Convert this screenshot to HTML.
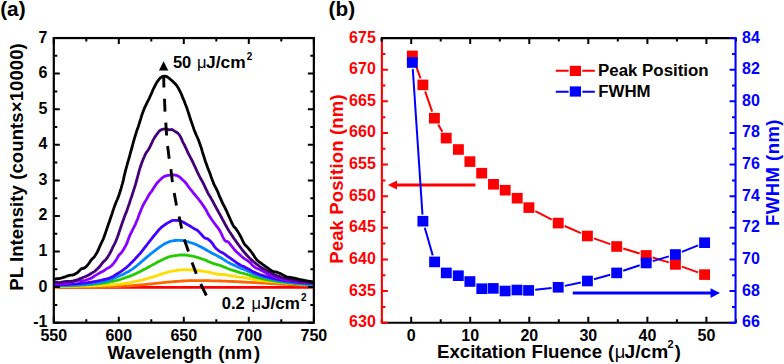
<!DOCTYPE html>
<html><head><meta charset="utf-8"><style>
html,body{margin:0;padding:0;background:#fff;}
body{width:784px;height:364px;overflow:hidden;font-family:"Liberation Sans",sans-serif;}
svg{display:block;}
</style></head><body>
<svg width="784" height="364" viewBox="0 0 784 364">
<rect width="784" height="364" fill="#fff"/>
<text x="0.2" y="15.8" font-family="Liberation Sans, sans-serif" font-weight="bold" font-size="20.8">(a)</text>
<text x="328.6" y="15.8" font-family="Liberation Sans, sans-serif" font-weight="bold" font-size="20.8">(b)</text>
<defs><clipPath id="ca"><rect x="53.8" y="38.05" width="260.05" height="284.65"/></clipPath></defs>
<g clip-path="url(#ca)" fill="none" stroke-width="2.8" stroke-linejoin="round">
<path d="M53.8,287.3 L313.85,287.3" stroke="#ff0000"/>
<path d="M53.8,287.7 L54.7,287.7 L55.5,287.7 L56.4,287.7 L57.3,287.6 L58.1,287.6 L59.0,287.5 L59.9,287.4 L60.8,287.3 L61.6,287.3 L62.5,287.3 L63.4,287.3 L64.2,287.3 L65.1,287.3 L66.0,287.3 L66.8,287.3 L67.7,287.3 L68.6,287.3 L69.5,287.3 L70.3,287.3 L71.2,287.3 L72.1,287.3 L72.9,287.3 L73.8,287.3 L74.7,287.3 L75.5,287.3 L76.4,287.3 L77.3,287.2 L78.2,287.2 L79.0,287.2 L79.9,287.2 L80.8,287.2 L81.6,287.2 L82.5,287.2 L83.4,287.2 L84.2,287.2 L85.1,287.2 L86.0,287.2 L86.8,287.2 L87.7,287.2 L88.6,287.2 L89.5,287.2 L90.3,287.2 L91.2,287.1 L92.1,287.1 L92.9,287.1 L93.8,287.1 L94.7,287.1 L95.5,287.1 L96.4,287.1 L97.3,287.1 L98.2,287.1 L99.0,287.0 L99.9,287.0 L100.8,287.0 L101.6,287.0 L102.5,287.0 L103.4,286.9 L104.2,286.9 L105.1,286.9 L106.0,286.9 L106.9,286.9 L107.7,286.8 L108.6,286.8 L109.5,286.8 L110.3,286.8 L111.2,286.7 L112.1,286.7 L112.9,286.7 L113.8,286.6 L114.7,286.6 L115.6,286.6 L116.4,286.5 L117.3,286.5 L118.2,286.5 L119.0,286.4 L119.9,286.4 L120.8,286.3 L121.6,286.3 L122.5,286.2 L123.4,286.2 L124.2,286.1 L125.1,286.1 L126.0,286.0 L126.9,286.0 L127.7,285.9 L128.6,285.9 L129.5,285.8 L130.3,285.8 L131.2,285.7 L132.1,285.6 L132.9,285.6 L133.8,285.5 L134.7,285.4 L135.6,285.4 L136.4,285.3 L137.3,285.2 L138.2,285.2 L139.0,285.1 L139.9,285.0 L140.8,284.9 L141.6,284.8 L142.5,284.8 L143.4,284.7 L144.3,284.6 L145.1,284.5 L146.0,284.4 L146.9,284.3 L147.7,284.2 L148.6,284.1 L149.5,284.1 L150.3,284.0 L151.2,283.9 L152.1,283.8 L152.9,283.7 L153.8,283.6 L154.7,283.5 L155.6,283.4 L156.4,283.3 L157.3,283.2 L158.2,283.2 L159.0,283.1 L159.9,283.0 L160.8,282.9 L161.6,282.8 L162.5,282.7 L163.4,282.6 L164.3,282.5 L165.1,282.4 L166.0,282.3 L166.9,282.2 L167.7,282.2 L168.6,282.1 L169.5,282.0 L170.3,281.9 L171.2,281.8 L172.1,281.8 L173.0,281.7 L173.8,281.6 L174.7,281.5 L175.6,281.5 L176.4,281.4 L177.3,281.4 L178.2,281.3 L179.0,281.3 L179.9,281.2 L180.8,281.1 L181.7,281.1 L182.5,281.0 L183.4,281.0 L184.3,280.9 L185.1,280.9 L186.0,280.8 L186.9,280.8 L187.7,280.7 L188.6,280.7 L189.5,280.7 L190.3,280.6 L191.2,280.6 L192.1,280.6 L193.0,280.6 L193.8,280.6 L194.7,280.6 L195.6,280.6 L196.4,280.6 L197.3,280.6 L198.2,280.6 L199.0,280.6 L199.9,280.6 L200.8,280.6 L201.7,280.6 L202.5,280.6 L203.4,280.6 L204.3,280.6 L205.1,280.6 L206.0,280.6 L206.9,280.6 L207.7,280.7 L208.6,280.7 L209.5,280.7 L210.4,280.8 L211.2,280.8 L212.1,280.8 L213.0,280.8 L213.8,280.8 L214.7,280.9 L215.6,280.9 L216.4,280.9 L217.3,280.9 L218.2,280.9 L219.0,281.0 L219.9,281.0 L220.8,281.0 L221.7,281.1 L222.5,281.1 L223.4,281.1 L224.3,281.2 L225.1,281.2 L226.0,281.2 L226.9,281.3 L227.7,281.3 L228.6,281.3 L229.5,281.4 L230.4,281.4 L231.2,281.4 L232.1,281.5 L233.0,281.5 L233.8,281.5 L234.7,281.6 L235.6,281.6 L236.4,281.7 L237.3,281.7 L238.2,281.7 L239.1,281.8 L239.9,281.8 L240.8,281.9 L241.7,282.0 L242.5,282.0 L243.4,282.1 L244.3,282.1 L245.1,282.2 L246.0,282.2 L246.9,282.3 L247.8,282.3 L248.6,282.4 L249.5,282.4 L250.4,282.4 L251.2,282.5 L252.1,282.5 L253.0,282.5 L253.8,282.6 L254.7,282.6 L255.6,282.7 L256.4,282.7 L257.3,282.8 L258.2,282.8 L259.1,282.9 L259.9,282.9 L260.8,282.9 L261.7,283.0 L262.5,283.0 L263.4,283.1 L264.3,283.1 L265.1,283.2 L266.0,283.2 L266.9,283.3 L267.8,283.3 L268.6,283.4 L269.5,283.4 L270.4,283.5 L271.2,283.5 L272.1,283.6 L273.0,283.6 L273.8,283.7 L274.7,283.7 L275.6,283.8 L276.5,283.8 L277.3,283.9 L278.2,283.9 L279.1,284.0 L279.9,284.0 L280.8,284.1 L281.7,284.1 L282.5,284.2 L283.4,284.2 L284.3,284.3 L285.1,284.3 L286.0,284.4 L286.9,284.4 L287.8,284.5 L288.6,284.5 L289.5,284.5 L290.4,284.6 L291.2,284.6 L292.1,284.7 L293.0,284.7 L293.8,284.8 L294.7,284.8 L295.6,284.8 L296.5,284.9 L297.3,284.9 L298.2,284.9 L299.1,285.0 L299.9,285.0 L300.8,285.0 L301.7,285.1 L302.5,285.1 L303.4,285.2 L304.3,285.2 L305.2,285.3 L306.0,285.3 L306.9,285.4 L307.8,285.4 L308.6,285.4 L309.5,285.5 L310.4,285.5 L311.2,285.6 L312.1,285.6 L313.0,285.6 L313.9,285.7" stroke="#ff6600"/>
<path d="M53.8,287.1 L54.7,287.1 L55.5,287.1 L56.4,287.0 L57.3,287.0 L58.1,286.9 L59.0,286.7 L59.9,286.6 L60.8,286.6 L61.6,286.5 L62.5,286.5 L63.4,286.5 L64.2,286.5 L65.1,286.5 L66.0,286.4 L66.8,286.4 L67.7,286.4 L68.6,286.4 L69.5,286.4 L70.3,286.4 L71.2,286.4 L72.1,286.4 L72.9,286.3 L73.8,286.3 L74.7,286.3 L75.5,286.3 L76.4,286.3 L77.3,286.3 L78.2,286.2 L79.0,286.2 L79.9,286.2 L80.8,286.2 L81.6,286.2 L82.5,286.2 L83.4,286.1 L84.2,286.1 L85.1,286.1 L86.0,286.1 L86.8,286.1 L87.7,286.0 L88.6,286.0 L89.5,286.0 L90.3,286.0 L91.2,285.9 L92.1,285.9 L92.9,285.9 L93.8,285.8 L94.7,285.8 L95.5,285.8 L96.4,285.7 L97.3,285.7 L98.2,285.7 L99.0,285.6 L99.9,285.6 L100.8,285.5 L101.6,285.5 L102.5,285.5 L103.4,285.4 L104.2,285.4 L105.1,285.3 L106.0,285.3 L106.9,285.2 L107.7,285.2 L108.6,285.1 L109.5,285.0 L110.3,285.0 L111.2,284.9 L112.1,284.8 L112.9,284.8 L113.8,284.7 L114.7,284.6 L115.6,284.5 L116.4,284.4 L117.3,284.4 L118.2,284.3 L119.0,284.2 L119.9,284.1 L120.8,284.0 L121.6,283.9 L122.5,283.8 L123.4,283.6 L124.2,283.5 L125.1,283.4 L126.0,283.3 L126.9,283.1 L127.7,283.0 L128.6,282.8 L129.5,282.7 L130.3,282.5 L131.2,282.3 L132.1,282.1 L132.9,282.0 L133.8,281.8 L134.7,281.6 L135.6,281.4 L136.4,281.3 L137.3,281.1 L138.2,280.9 L139.0,280.7 L139.9,280.5 L140.8,280.3 L141.6,280.1 L142.5,279.9 L143.4,279.7 L144.3,279.5 L145.1,279.2 L146.0,279.0 L146.9,278.7 L147.7,278.5 L148.6,278.2 L149.5,278.0 L150.3,277.7 L151.2,277.4 L152.1,277.2 L152.9,276.9 L153.8,276.6 L154.7,276.3 L155.6,276.1 L156.4,275.8 L157.3,275.5 L158.2,275.2 L159.0,274.9 L159.9,274.6 L160.8,274.4 L161.6,274.1 L162.5,273.8 L163.4,273.5 L164.3,273.2 L165.1,273.0 L166.0,272.7 L166.9,272.4 L167.7,272.2 L168.6,271.9 L169.5,271.7 L170.3,271.5 L171.2,271.3 L172.1,271.2 L173.0,271.0 L173.8,270.9 L174.7,270.8 L175.6,270.6 L176.4,270.5 L177.3,270.4 L178.2,270.2 L179.0,270.1 L179.9,270.0 L180.8,270.0 L181.7,269.9 L182.5,269.9 L183.4,269.8 L184.3,269.7 L185.1,269.7 L186.0,269.7 L186.9,269.7 L187.7,269.8 L188.6,269.8 L189.5,269.8 L190.3,269.9 L191.2,269.9 L192.1,270.0 L193.0,270.1 L193.8,270.1 L194.7,270.2 L195.6,270.3 L196.4,270.4 L197.3,270.5 L198.2,270.6 L199.0,270.7 L199.9,270.9 L200.8,271.0 L201.7,271.1 L202.5,271.2 L203.4,271.3 L204.3,271.4 L205.1,271.6 L206.0,271.7 L206.9,271.8 L207.7,271.9 L208.6,272.1 L209.5,272.2 L210.4,272.4 L211.2,272.6 L212.1,272.8 L213.0,273.1 L213.8,273.4 L214.7,273.6 L215.6,273.8 L216.4,274.0 L217.3,274.1 L218.2,274.3 L219.0,274.4 L219.9,274.5 L220.8,274.5 L221.7,274.5 L222.5,274.5 L223.4,274.5 L224.3,274.6 L225.1,274.7 L226.0,274.9 L226.9,275.0 L227.7,275.2 L228.6,275.3 L229.5,275.5 L230.4,275.6 L231.2,275.8 L232.1,275.9 L233.0,276.1 L233.8,276.2 L234.7,276.4 L235.6,276.5 L236.4,276.7 L237.3,276.8 L238.2,277.0 L239.1,277.1 L239.9,277.2 L240.8,277.3 L241.7,277.4 L242.5,277.4 L243.4,277.5 L244.3,277.6 L245.1,277.7 L246.0,277.8 L246.9,278.0 L247.8,278.1 L248.6,278.3 L249.5,278.4 L250.4,278.6 L251.2,278.8 L252.1,279.0 L253.0,279.2 L253.8,279.4 L254.7,279.5 L255.6,279.6 L256.4,279.8 L257.3,279.9 L258.2,280.0 L259.1,280.1 L259.9,280.2 L260.8,280.3 L261.7,280.4 L262.5,280.6 L263.4,280.7 L264.3,280.8 L265.1,280.9 L266.0,281.0 L266.9,281.1 L267.8,281.2 L268.6,281.3 L269.5,281.4 L270.4,281.5 L271.2,281.6 L272.1,281.7 L273.0,281.8 L273.8,281.9 L274.7,282.0 L275.6,282.1 L276.5,282.1 L277.3,282.2 L278.2,282.3 L279.1,282.4 L279.9,282.5 L280.8,282.6 L281.7,282.6 L282.5,282.7 L283.4,282.8 L284.3,282.9 L285.1,282.9 L286.0,283.0 L286.9,283.1 L287.8,283.2 L288.6,283.2 L289.5,283.3 L290.4,283.4 L291.2,283.4 L292.1,283.5 L293.0,283.6 L293.8,283.6 L294.7,283.7 L295.6,283.7 L296.5,283.8 L297.3,283.9 L298.2,283.9 L299.1,284.0 L299.9,284.0 L300.8,284.1 L301.7,284.1 L302.5,284.2 L303.4,284.2 L304.3,284.3 L305.2,284.3 L306.0,284.4 L306.9,284.4 L307.8,284.5 L308.6,284.5 L309.5,284.6 L310.4,284.6 L311.2,284.6 L312.1,284.7 L313.0,284.7 L313.9,284.8" stroke="#ffdd00"/>
<path d="M53.8,286.7 L54.7,286.7 L55.5,286.6 L56.4,286.6 L57.3,286.5 L58.1,286.3 L59.0,286.2 L59.9,286.0 L60.8,285.9 L61.6,285.9 L62.5,285.8 L63.4,285.8 L64.2,285.8 L65.1,285.8 L66.0,285.7 L66.8,285.7 L67.7,285.7 L68.6,285.7 L69.5,285.6 L70.3,285.6 L71.2,285.6 L72.1,285.5 L72.9,285.5 L73.8,285.5 L74.7,285.4 L75.5,285.4 L76.4,285.4 L77.3,285.3 L78.2,285.3 L79.0,285.2 L79.9,285.2 L80.8,285.2 L81.6,285.1 L82.5,285.1 L83.4,285.0 L84.2,285.0 L85.1,284.9 L86.0,284.9 L86.8,284.8 L87.7,284.7 L88.6,284.7 L89.5,284.6 L90.3,284.5 L91.2,284.5 L92.1,284.4 L92.9,284.3 L93.8,284.2 L94.7,284.2 L95.5,284.1 L96.4,284.0 L97.3,283.9 L98.2,283.8 L99.0,283.7 L99.9,283.6 L100.8,283.5 L101.6,283.3 L102.5,283.2 L103.4,283.1 L104.2,283.0 L105.1,282.8 L106.0,282.7 L106.9,282.6 L107.7,282.4 L108.6,282.2 L109.5,282.1 L110.3,281.9 L111.2,281.7 L112.1,281.5 L112.9,281.4 L113.8,281.2 L114.7,281.0 L115.6,280.7 L116.4,280.5 L117.3,280.3 L118.2,280.1 L119.0,279.8 L119.9,279.5 L120.8,279.3 L121.6,279.0 L122.5,278.7 L123.4,278.4 L124.2,278.1 L125.1,277.8 L126.0,277.5 L126.9,277.2 L127.7,276.9 L128.6,276.6 L129.5,276.3 L130.3,275.9 L131.2,275.6 L132.1,275.3 L132.9,274.9 L133.8,274.5 L134.7,274.1 L135.6,273.7 L136.4,273.3 L137.3,272.9 L138.2,272.5 L139.0,272.1 L139.9,271.6 L140.8,271.2 L141.6,270.7 L142.5,270.3 L143.4,269.8 L144.3,269.4 L145.1,268.9 L146.0,268.5 L146.9,268.0 L147.7,267.5 L148.6,267.0 L149.5,266.6 L150.3,266.1 L151.2,265.6 L152.1,265.1 L152.9,264.6 L153.8,264.2 L154.7,263.7 L155.6,263.3 L156.4,262.8 L157.3,262.3 L158.2,261.9 L159.0,261.4 L159.9,261.0 L160.8,260.5 L161.6,260.1 L162.5,259.7 L163.4,259.2 L164.3,258.8 L165.1,258.4 L166.0,258.0 L166.9,257.7 L167.7,257.3 L168.6,257.0 L169.5,256.7 L170.3,256.5 L171.2,256.3 L172.1,256.1 L173.0,256.0 L173.8,255.8 L174.7,255.7 L175.6,255.6 L176.4,255.5 L177.3,255.3 L178.2,255.2 L179.0,255.1 L179.9,255.0 L180.8,255.0 L181.7,255.0 L182.5,254.9 L183.4,255.0 L184.3,255.0 L185.1,255.0 L186.0,255.1 L186.9,255.2 L187.7,255.3 L188.6,255.5 L189.5,255.6 L190.3,255.8 L191.2,255.9 L192.1,256.1 L193.0,256.2 L193.8,256.4 L194.7,256.6 L195.6,256.8 L196.4,257.1 L197.3,257.3 L198.2,257.6 L199.0,257.9 L199.9,258.2 L200.8,258.5 L201.7,258.8 L202.5,259.1 L203.4,259.4 L204.3,259.6 L205.1,260.0 L206.0,260.3 L206.9,260.7 L207.7,261.2 L208.6,261.6 L209.5,262.0 L210.4,262.3 L211.2,262.7 L212.1,263.0 L213.0,263.3 L213.8,263.6 L214.7,263.9 L215.6,264.2 L216.4,264.4 L217.3,264.6 L218.2,264.8 L219.0,265.0 L219.9,265.4 L220.8,265.7 L221.7,266.0 L222.5,266.4 L223.4,266.7 L224.3,267.1 L225.1,267.4 L226.0,267.8 L226.9,268.2 L227.7,268.5 L228.6,268.8 L229.5,269.2 L230.4,269.5 L231.2,269.8 L232.1,270.1 L233.0,270.4 L233.8,270.6 L234.7,270.9 L235.6,271.2 L236.4,271.4 L237.3,271.7 L238.2,272.0 L239.1,272.3 L239.9,272.6 L240.8,272.8 L241.7,273.0 L242.5,273.2 L243.4,273.3 L244.3,273.6 L245.1,273.8 L246.0,274.0 L246.9,274.3 L247.8,274.6 L248.6,274.8 L249.5,275.1 L250.4,275.4 L251.2,275.8 L252.1,276.1 L253.0,276.4 L253.8,276.7 L254.7,277.0 L255.6,277.2 L256.4,277.4 L257.3,277.6 L258.2,277.8 L259.1,278.0 L259.9,278.2 L260.8,278.4 L261.7,278.6 L262.5,278.8 L263.4,279.0 L264.3,279.2 L265.1,279.4 L266.0,279.5 L266.9,279.7 L267.8,279.9 L268.6,280.0 L269.5,280.2 L270.4,280.4 L271.2,280.5 L272.1,280.7 L273.0,280.8 L273.8,281.0 L274.7,281.1 L275.6,281.2 L276.5,281.4 L277.3,281.5 L278.2,281.6 L279.1,281.8 L279.9,281.9 L280.8,282.0 L281.7,282.1 L282.5,282.2 L283.4,282.3 L284.3,282.4 L285.1,282.5 L286.0,282.6 L286.9,282.7 L287.8,282.8 L288.6,282.9 L289.5,283.0 L290.4,283.1 L291.2,283.2 L292.1,283.3 L293.0,283.4 L293.8,283.4 L294.7,283.5 L295.6,283.6 L296.5,283.7 L297.3,283.7 L298.2,283.8 L299.1,283.9 L299.9,283.9 L300.8,284.0 L301.7,284.1 L302.5,284.1 L303.4,284.2 L304.3,284.2 L305.2,284.3 L306.0,284.3 L306.9,284.4 L307.8,284.5 L308.6,284.5 L309.5,284.5 L310.4,284.6 L311.2,284.6 L312.1,284.7 L313.0,284.7 L313.9,284.8" stroke="#22cc00"/>
<path d="M53.8,286.4 L54.7,286.4 L55.5,286.3 L56.4,286.3 L57.3,286.2 L58.1,286.1 L59.0,285.9 L59.9,285.8 L60.8,285.7 L61.6,285.6 L62.5,285.6 L63.4,285.5 L64.2,285.5 L65.1,285.5 L66.0,285.4 L66.8,285.4 L67.7,285.4 L68.6,285.3 L69.5,285.3 L70.3,285.3 L71.2,285.2 L72.1,285.2 L72.9,285.2 L73.8,285.1 L74.7,285.1 L75.5,285.0 L76.4,285.0 L77.3,284.9 L78.2,284.9 L79.0,284.8 L79.9,284.8 L80.8,284.7 L81.6,284.6 L82.5,284.6 L83.4,284.5 L84.2,284.4 L85.1,284.3 L86.0,284.3 L86.8,284.2 L87.7,284.1 L88.6,284.0 L89.5,283.9 L90.3,283.8 L91.2,283.7 L92.1,283.6 L92.9,283.5 L93.8,283.4 L94.7,283.2 L95.5,283.1 L96.4,283.0 L97.3,282.8 L98.2,282.7 L99.0,282.5 L99.9,282.3 L100.8,282.2 L101.6,282.0 L102.5,281.8 L103.4,281.6 L104.2,281.4 L105.1,281.2 L106.0,281.0 L106.9,280.7 L107.7,280.5 L108.6,280.2 L109.5,280.0 L110.3,279.7 L111.2,279.4 L112.1,279.0 L112.9,278.7 L113.8,278.3 L114.7,277.9 L115.6,277.5 L116.4,277.2 L117.3,276.8 L118.2,276.4 L119.0,276.0 L119.9,275.7 L120.8,275.3 L121.6,274.9 L122.5,274.6 L123.4,274.2 L124.2,273.7 L125.1,273.3 L126.0,272.8 L126.9,272.4 L127.7,271.9 L128.6,271.5 L129.5,271.0 L130.3,270.4 L131.2,269.9 L132.1,269.3 L132.9,268.7 L133.8,268.1 L134.7,267.4 L135.6,266.7 L136.4,266.0 L137.3,265.3 L138.2,264.5 L139.0,263.8 L139.9,263.1 L140.8,262.4 L141.6,261.6 L142.5,260.9 L143.4,260.1 L144.3,259.4 L145.1,258.6 L146.0,257.9 L146.9,257.1 L147.7,256.4 L148.6,255.7 L149.5,254.9 L150.3,254.2 L151.2,253.5 L152.1,252.9 L152.9,252.2 L153.8,251.5 L154.7,250.8 L155.6,250.1 L156.4,249.4 L157.3,248.8 L158.2,248.1 L159.0,247.5 L159.9,246.9 L160.8,246.2 L161.6,245.7 L162.5,245.1 L163.4,244.6 L164.3,244.0 L165.1,243.5 L166.0,243.1 L166.9,242.7 L167.7,242.3 L168.6,242.0 L169.5,241.7 L170.3,241.4 L171.2,241.2 L172.1,241.0 L173.0,240.8 L173.8,240.6 L174.7,240.5 L175.6,240.5 L176.4,240.4 L177.3,240.4 L178.2,240.4 L179.0,240.4 L179.9,240.4 L180.8,240.4 L181.7,240.5 L182.5,240.6 L183.4,240.7 L184.3,240.9 L185.1,241.1 L186.0,241.3 L186.9,241.5 L187.7,241.7 L188.6,242.0 L189.5,242.3 L190.3,242.5 L191.2,242.8 L192.1,243.0 L193.0,243.3 L193.8,243.7 L194.7,244.0 L195.6,244.3 L196.4,244.7 L197.3,245.1 L198.2,245.5 L199.0,246.0 L199.9,246.4 L200.8,246.9 L201.7,247.3 L202.5,247.8 L203.4,248.2 L204.3,248.7 L205.1,249.3 L206.0,249.8 L206.9,250.3 L207.7,250.8 L208.6,251.3 L209.5,251.7 L210.4,252.2 L211.2,252.7 L212.1,253.2 L213.0,253.6 L213.8,254.1 L214.7,254.5 L215.6,254.9 L216.4,255.4 L217.3,255.9 L218.2,256.3 L219.0,256.8 L219.9,257.3 L220.8,257.8 L221.7,258.3 L222.5,258.8 L223.4,259.4 L224.3,259.9 L225.1,260.5 L226.0,261.0 L226.9,261.6 L227.7,262.1 L228.6,262.6 L229.5,263.0 L230.4,263.5 L231.2,263.9 L232.1,264.4 L233.0,264.8 L233.8,265.2 L234.7,265.5 L235.6,265.9 L236.4,266.3 L237.3,266.7 L238.2,267.1 L239.1,267.5 L239.9,267.9 L240.8,268.3 L241.7,268.6 L242.5,268.9 L243.4,269.2 L244.3,269.5 L245.1,269.9 L246.0,270.2 L246.9,270.6 L247.8,271.0 L248.6,271.4 L249.5,271.7 L250.4,272.1 L251.2,272.6 L252.1,273.0 L253.0,273.4 L253.8,273.8 L254.7,274.1 L255.6,274.4 L256.4,274.8 L257.3,275.0 L258.2,275.3 L259.1,275.6 L259.9,275.9 L260.8,276.2 L261.7,276.4 L262.5,276.7 L263.4,277.0 L264.3,277.2 L265.1,277.5 L266.0,277.7 L266.9,277.9 L267.8,278.2 L268.6,278.4 L269.5,278.6 L270.4,278.8 L271.2,279.0 L272.1,279.2 L273.0,279.4 L273.8,279.6 L274.7,279.8 L275.6,280.0 L276.5,280.2 L277.3,280.3 L278.2,280.5 L279.1,280.7 L279.9,280.8 L280.8,281.0 L281.7,281.1 L282.5,281.3 L283.4,281.4 L284.3,281.5 L285.1,281.7 L286.0,281.8 L286.9,281.9 L287.8,282.1 L288.6,282.2 L289.5,282.3 L290.4,282.4 L291.2,282.5 L292.1,282.6 L293.0,282.7 L293.8,282.8 L294.7,282.9 L295.6,283.0 L296.5,283.1 L297.3,283.2 L298.2,283.3 L299.1,283.4 L299.9,283.5 L300.8,283.5 L301.7,283.6 L302.5,283.7 L303.4,283.8 L304.3,283.8 L305.2,283.9 L306.0,284.0 L306.9,284.0 L307.8,284.1 L308.6,284.1 L309.5,284.2 L310.4,284.2 L311.2,284.3 L312.1,284.4 L313.0,284.4 L313.9,284.5" stroke="#0088ff"/>
<path d="M53.8,285.2 L54.7,285.1 L55.5,285.1 L56.4,285.1 L57.3,285.0 L58.1,284.9 L59.0,284.8 L59.9,284.8 L60.8,284.7 L61.6,284.6 L62.5,284.6 L63.4,284.6 L64.2,284.5 L65.1,284.5 L66.0,284.4 L66.8,284.4 L67.7,284.3 L68.6,284.3 L69.5,284.2 L70.3,284.2 L71.2,284.1 L72.1,284.1 L72.9,284.0 L73.8,284.0 L74.7,283.9 L75.5,283.8 L76.4,283.8 L77.3,283.7 L78.2,283.6 L79.0,283.6 L79.9,283.5 L80.8,283.4 L81.6,283.3 L82.5,283.2 L83.4,283.2 L84.2,283.1 L85.1,283.0 L86.0,282.9 L86.8,282.8 L87.7,282.7 L88.6,282.5 L89.5,282.4 L90.3,282.3 L91.2,282.2 L92.1,282.0 L92.9,281.9 L93.8,281.7 L94.7,281.6 L95.5,281.4 L96.4,281.2 L97.3,281.1 L98.2,280.9 L99.0,280.7 L99.9,280.5 L100.8,280.3 L101.6,280.0 L102.5,279.8 L103.4,279.6 L104.2,279.4 L105.1,279.3 L106.0,279.1 L106.9,278.9 L107.7,278.6 L108.6,278.4 L109.5,278.0 L110.3,277.7 L111.2,277.3 L112.1,276.9 L112.9,276.5 L113.8,276.0 L114.7,275.4 L115.6,274.8 L116.4,274.3 L117.3,273.8 L118.2,273.2 L119.0,272.7 L119.9,272.2 L120.8,271.6 L121.6,271.0 L122.5,270.4 L123.4,269.8 L124.2,269.1 L125.1,268.5 L126.0,267.8 L126.9,267.1 L127.7,266.3 L128.6,265.5 L129.5,264.7 L130.3,263.8 L131.2,262.9 L132.1,262.1 L132.9,261.2 L133.8,260.3 L134.7,259.4 L135.6,258.4 L136.4,257.5 L137.3,256.5 L138.2,255.6 L139.0,254.6 L139.9,253.7 L140.8,252.7 L141.6,251.6 L142.5,250.5 L143.4,249.3 L144.3,248.2 L145.1,247.1 L146.0,246.0 L146.9,244.8 L147.7,243.7 L148.6,242.6 L149.5,241.5 L150.3,240.4 L151.2,239.3 L152.1,238.2 L152.9,237.1 L153.8,236.0 L154.7,234.9 L155.6,233.8 L156.4,232.8 L157.3,231.7 L158.2,230.7 L159.0,229.7 L159.9,228.8 L160.8,227.9 L161.6,227.1 L162.5,226.5 L163.4,225.9 L164.3,225.2 L165.1,224.6 L166.0,224.0 L166.9,223.4 L167.7,222.9 L168.6,222.4 L169.5,222.0 L170.3,221.5 L171.2,221.0 L172.1,220.6 L173.0,220.4 L173.8,220.3 L174.7,220.3 L175.6,220.3 L176.4,220.3 L177.3,220.4 L178.2,220.5 L179.0,220.7 L179.9,221.0 L180.8,221.2 L181.7,221.5 L182.5,221.9 L183.4,222.2 L184.3,222.7 L185.1,223.2 L186.0,223.7 L186.9,224.2 L187.7,224.7 L188.6,225.2 L189.5,225.7 L190.3,226.3 L191.2,226.8 L192.1,227.4 L193.0,227.9 L193.8,228.5 L194.7,229.0 L195.6,229.3 L196.4,229.7 L197.3,230.3 L198.2,231.1 L199.0,231.9 L199.9,232.9 L200.8,233.8 L201.7,234.8 L202.5,235.8 L203.4,236.7 L204.3,237.6 L205.1,238.1 L206.0,238.3 L206.9,238.5 L207.7,239.0 L208.6,239.6 L209.5,240.3 L210.4,241.1 L211.2,242.0 L212.1,243.0 L213.0,244.3 L213.8,245.7 L214.7,246.9 L215.6,247.9 L216.4,248.7 L217.3,249.5 L218.2,250.2 L219.0,250.9 L219.9,251.5 L220.8,252.0 L221.7,252.4 L222.5,252.8 L223.4,253.3 L224.3,253.9 L225.1,254.5 L226.0,255.1 L226.9,255.8 L227.7,256.4 L228.6,257.0 L229.5,257.6 L230.4,258.2 L231.2,258.9 L232.1,259.5 L233.0,260.1 L233.8,260.7 L234.7,261.3 L235.6,261.9 L236.4,262.6 L237.3,263.2 L238.2,263.8 L239.1,264.3 L239.9,264.8 L240.8,265.3 L241.7,265.7 L242.5,266.0 L243.4,266.4 L244.3,266.8 L245.1,267.2 L246.0,267.7 L246.9,268.1 L247.8,268.6 L248.6,269.1 L249.5,269.5 L250.4,270.0 L251.2,270.6 L252.1,271.1 L253.0,271.6 L253.8,272.1 L254.7,272.4 L255.6,272.8 L256.4,273.2 L257.3,273.5 L258.2,273.8 L259.1,274.2 L259.9,274.5 L260.8,274.8 L261.7,275.1 L262.5,275.4 L263.4,275.7 L264.3,276.0 L265.1,276.2 L266.0,276.5 L266.9,276.7 L267.8,277.0 L268.6,277.2 L269.5,277.5 L270.4,277.7 L271.2,277.9 L272.1,278.1 L273.0,278.3 L273.8,278.5 L274.7,278.7 L275.6,278.9 L276.5,279.1 L277.3,279.3 L278.2,279.5 L279.1,279.6 L279.9,279.8 L280.8,280.0 L281.7,280.1 L282.5,280.3 L283.4,280.4 L284.3,280.5 L285.1,280.7 L286.0,280.8 L286.9,280.9 L287.8,281.1 L288.6,281.2 L289.5,281.3 L290.4,281.4 L291.2,281.5 L292.1,281.6 L293.0,281.7 L293.8,281.8 L294.7,281.9 L295.6,282.0 L296.5,282.1 L297.3,282.2 L298.2,282.3 L299.1,282.4 L299.9,282.5 L300.8,282.5 L301.7,282.6 L302.5,282.7 L303.4,282.8 L304.3,282.8 L305.2,282.9 L306.0,283.0 L306.9,283.0 L307.8,283.1 L308.6,283.2 L309.5,283.2 L310.4,283.3 L311.2,283.3 L312.1,283.4 L313.0,283.4 L313.9,283.5" stroke="#4400ff"/>
<path d="M53.8,283.6 L54.7,283.6 L55.5,283.5 L56.4,283.5 L57.3,283.6 L58.1,283.6 L59.0,283.7 L59.9,283.8 L60.8,283.8 L61.6,283.8 L62.5,283.8 L63.4,283.7 L64.2,283.6 L65.1,283.5 L66.0,283.5 L66.8,283.4 L67.7,283.3 L68.6,283.2 L69.5,283.0 L70.3,282.7 L71.2,282.2 L72.1,281.7 L72.9,281.4 L73.8,281.1 L74.7,280.9 L75.5,280.7 L76.4,280.6 L77.3,280.5 L78.2,280.4 L79.0,280.4 L79.9,280.4 L80.8,280.6 L81.6,280.8 L82.5,280.8 L83.4,280.7 L84.2,280.5 L85.1,280.3 L86.0,280.0 L86.8,279.7 L87.7,279.5 L88.6,279.2 L89.5,278.9 L90.3,278.5 L91.2,278.2 L92.1,277.7 L92.9,277.1 L93.8,276.5 L94.7,275.9 L95.5,275.4 L96.4,274.9 L97.3,274.4 L98.2,273.9 L99.0,273.3 L99.9,272.8 L100.8,272.3 L101.6,271.9 L102.5,271.5 L103.4,271.0 L104.2,270.5 L105.1,269.9 L106.0,269.2 L106.9,268.6 L107.7,268.1 L108.6,267.7 L109.5,267.3 L110.3,266.7 L111.2,266.0 L112.1,265.1 L112.9,264.1 L113.8,263.1 L114.7,261.9 L115.6,260.7 L116.4,259.4 L117.3,257.9 L118.2,256.3 L119.0,255.1 L119.9,254.2 L120.8,253.3 L121.6,252.3 L122.5,251.1 L123.4,249.7 L124.2,248.3 L125.1,246.8 L126.0,245.1 L126.9,243.2 L127.7,240.9 L128.6,238.5 L129.5,236.3 L130.3,234.4 L131.2,232.7 L132.1,231.0 L132.9,229.2 L133.8,227.5 L134.7,225.7 L135.6,223.8 L136.4,221.8 L137.3,219.7 L138.2,217.4 L139.0,215.1 L139.9,212.8 L140.8,210.6 L141.6,208.5 L142.5,206.5 L143.4,204.7 L144.3,203.0 L145.1,201.6 L146.0,200.1 L146.9,198.6 L147.7,197.1 L148.6,195.5 L149.5,194.1 L150.3,192.9 L151.2,191.8 L152.1,190.6 L152.9,189.2 L153.8,187.8 L154.7,186.4 L155.6,185.1 L156.4,183.8 L157.3,182.7 L158.2,181.7 L159.0,180.9 L159.9,180.0 L160.8,179.2 L161.6,178.4 L162.5,177.7 L163.4,177.1 L164.3,176.5 L165.1,176.1 L166.0,175.8 L166.9,175.6 L167.7,175.4 L168.6,175.3 L169.5,175.1 L170.3,174.9 L171.2,174.8 L172.1,174.9 L173.0,175.0 L173.8,175.0 L174.7,175.1 L175.6,175.1 L176.4,175.3 L177.3,175.7 L178.2,176.1 L179.0,176.7 L179.9,177.3 L180.8,178.1 L181.7,178.9 L182.5,179.7 L183.4,180.5 L184.3,181.3 L185.1,182.2 L186.0,183.2 L186.9,184.4 L187.7,185.7 L188.6,186.9 L189.5,188.0 L190.3,189.1 L191.2,190.2 L192.1,191.3 L193.0,192.4 L193.8,193.5 L194.7,194.5 L195.6,195.6 L196.4,196.6 L197.3,197.6 L198.2,198.7 L199.0,199.8 L199.9,200.9 L200.8,202.1 L201.7,203.3 L202.5,204.6 L203.4,205.8 L204.3,207.1 L205.1,208.4 L206.0,209.9 L206.9,211.5 L207.7,213.2 L208.6,214.7 L209.5,216.2 L210.4,217.5 L211.2,218.8 L212.1,220.0 L213.0,221.3 L213.8,222.5 L214.7,223.7 L215.6,224.8 L216.4,226.0 L217.3,227.1 L218.2,228.2 L219.0,229.4 L219.9,230.8 L220.8,232.5 L221.7,234.4 L222.5,236.3 L223.4,238.1 L224.3,239.6 L225.1,240.7 L226.0,241.3 L226.9,241.4 L227.7,241.7 L228.6,242.4 L229.5,243.4 L230.4,244.5 L231.2,245.6 L232.1,246.7 L233.0,247.8 L233.8,248.9 L234.7,249.9 L235.6,250.8 L236.4,251.7 L237.3,252.5 L238.2,253.3 L239.1,254.1 L239.9,254.9 L240.8,255.7 L241.7,256.5 L242.5,257.2 L243.4,257.9 L244.3,258.5 L245.1,259.1 L246.0,259.7 L246.9,260.2 L247.8,260.8 L248.6,261.4 L249.5,262.1 L250.4,262.9 L251.2,263.9 L252.1,264.9 L253.0,265.8 L253.8,266.5 L254.7,267.1 L255.6,267.7 L256.4,268.1 L257.3,268.5 L258.2,268.8 L259.1,269.2 L259.9,269.6 L260.8,270.1 L261.7,270.5 L262.5,271.0 L263.4,271.5 L264.3,271.9 L265.1,272.4 L266.0,273.0 L266.9,273.5 L267.8,274.1 L268.6,274.5 L269.5,274.9 L270.4,275.3 L271.2,275.6 L272.1,275.9 L273.0,276.3 L273.8,276.6 L274.7,276.9 L275.6,277.1 L276.5,277.4 L277.3,277.7 L278.2,277.9 L279.1,278.2 L279.9,278.4 L280.8,278.6 L281.7,278.9 L282.5,279.1 L283.4,279.3 L284.3,279.5 L285.1,279.7 L286.0,279.8 L286.9,280.0 L287.8,280.2 L288.6,280.4 L289.5,280.5 L290.4,280.7 L291.2,280.8 L292.1,281.0 L293.0,281.1 L293.8,281.2 L294.7,281.4 L295.6,281.5 L296.5,281.6 L297.3,281.7 L298.2,281.9 L299.1,282.0 L299.9,282.1 L300.8,282.2 L301.7,282.3 L302.5,282.4 L303.4,282.4 L304.3,282.5 L305.2,282.6 L306.0,282.7 L306.9,282.8 L307.8,282.9 L308.6,282.9 L309.5,283.0 L310.4,283.1 L311.2,283.1 L312.1,283.2 L313.0,283.3 L313.9,283.3" stroke="#8800ff"/>
<path d="M53.8,282.1 L54.7,282.1 L55.5,282.0 L56.4,282.1 L57.3,282.2 L58.1,282.3 L59.0,282.6 L59.9,282.6 L60.8,282.5 L61.6,282.2 L62.5,282.0 L63.4,281.9 L64.2,281.7 L65.1,281.6 L66.0,281.5 L66.8,281.4 L67.7,281.3 L68.6,281.3 L69.5,281.3 L70.3,281.4 L71.2,281.3 L72.1,281.2 L72.9,281.1 L73.8,280.9 L74.7,280.7 L75.5,280.4 L76.4,280.1 L77.3,279.8 L78.2,279.5 L79.0,279.1 L79.9,278.7 L80.8,278.4 L81.6,278.1 L82.5,277.7 L83.4,277.3 L84.2,277.0 L85.1,276.6 L86.0,276.2 L86.8,275.8 L87.7,275.5 L88.6,275.0 L89.5,274.5 L90.3,274.0 L91.2,273.5 L92.1,272.9 L92.9,272.4 L93.8,271.9 L94.7,271.3 L95.5,270.6 L96.4,269.8 L97.3,269.0 L98.2,268.1 L99.0,267.2 L99.9,266.2 L100.8,265.2 L101.6,264.0 L102.5,262.9 L103.4,261.8 L104.2,261.1 L105.1,260.3 L106.0,259.4 L106.9,258.2 L107.7,257.0 L108.6,255.6 L109.5,254.1 L110.3,252.5 L111.2,250.8 L112.1,248.9 L112.9,247.0 L113.8,245.3 L114.7,243.6 L115.6,241.8 L116.4,239.7 L117.3,237.5 L118.2,235.1 L119.0,232.5 L119.9,229.9 L120.8,227.2 L121.6,224.7 L122.5,222.2 L123.4,219.8 L124.2,217.4 L125.1,215.1 L126.0,212.9 L126.9,210.5 L127.7,208.1 L128.6,205.6 L129.5,203.0 L130.3,200.4 L131.2,197.9 L132.1,195.3 L132.9,192.6 L133.8,189.9 L134.7,187.1 L135.6,184.2 L136.4,181.2 L137.3,177.9 L138.2,174.6 L139.0,171.4 L139.9,168.4 L140.8,165.7 L141.6,163.3 L142.5,160.9 L143.4,158.8 L144.3,156.7 L145.1,154.7 L146.0,153.1 L146.9,151.7 L147.7,150.6 L148.6,149.3 L149.5,147.8 L150.3,146.1 L151.2,144.2 L152.1,142.3 L152.9,140.5 L153.8,138.9 L154.7,137.4 L155.6,136.1 L156.4,134.8 L157.3,133.7 L158.2,132.5 L159.0,131.4 L159.9,130.6 L160.8,130.0 L161.6,129.6 L162.5,129.4 L163.4,129.2 L164.3,129.1 L165.1,129.0 L166.0,129.1 L166.9,129.2 L167.7,129.4 L168.6,129.7 L169.5,129.8 L170.3,129.7 L171.2,129.5 L172.1,129.6 L173.0,130.0 L173.8,130.6 L174.7,131.2 L175.6,131.7 L176.4,132.3 L177.3,132.8 L178.2,133.5 L179.0,134.5 L179.9,135.8 L180.8,137.4 L181.7,139.4 L182.5,141.3 L183.4,143.1 L184.3,144.7 L185.1,146.4 L186.0,148.3 L186.9,150.3 L187.7,152.2 L188.6,154.0 L189.5,155.7 L190.3,157.3 L191.2,158.9 L192.1,160.7 L193.0,162.5 L193.8,164.3 L194.7,166.2 L195.6,168.1 L196.4,169.9 L197.3,171.8 L198.2,173.6 L199.0,175.4 L199.9,177.1 L200.8,178.8 L201.7,180.4 L202.5,181.9 L203.4,183.5 L204.3,185.3 L205.1,187.2 L206.0,189.1 L206.9,190.9 L207.7,192.6 L208.6,194.2 L209.5,195.7 L210.4,197.1 L211.2,198.6 L212.1,200.1 L213.0,201.7 L213.8,203.3 L214.7,205.0 L215.6,206.6 L216.4,208.2 L217.3,209.8 L218.2,211.4 L219.0,212.9 L219.9,214.5 L220.8,216.2 L221.7,217.8 L222.5,219.4 L223.4,221.0 L224.3,222.6 L225.1,224.2 L226.0,225.7 L226.9,227.3 L227.7,228.8 L228.6,230.3 L229.5,231.7 L230.4,233.0 L231.2,234.3 L232.1,235.6 L233.0,236.9 L233.8,238.2 L234.7,239.5 L235.6,240.7 L236.4,241.9 L237.3,243.1 L238.2,244.3 L239.1,245.5 L239.9,246.7 L240.8,247.9 L241.7,249.1 L242.5,250.2 L243.4,251.3 L244.3,252.3 L245.1,253.3 L246.0,254.3 L246.9,255.3 L247.8,256.2 L248.6,257.1 L249.5,258.0 L250.4,258.8 L251.2,259.6 L252.1,260.4 L253.0,261.2 L253.8,262.0 L254.7,262.7 L255.6,263.4 L256.4,264.1 L257.3,264.7 L258.2,265.4 L259.1,266.0 L259.9,266.6 L260.8,267.2 L261.7,267.7 L262.5,268.2 L263.4,268.7 L264.3,269.1 L265.1,269.6 L266.0,270.1 L266.9,270.6 L267.8,271.1 L268.6,271.5 L269.5,272.0 L270.4,272.5 L271.2,273.0 L272.1,273.5 L273.0,274.0 L273.8,274.4 L274.7,274.8 L275.6,275.1 L276.5,275.5 L277.3,275.8 L278.2,276.1 L279.1,276.4 L279.9,276.7 L280.8,277.0 L281.7,277.3 L282.5,277.5 L283.4,277.8 L284.3,278.0 L285.1,278.2 L286.0,278.5 L286.9,278.7 L287.8,278.9 L288.6,279.1 L289.5,279.3 L290.4,279.5 L291.2,279.7 L292.1,279.9 L293.0,280.0 L293.8,280.2 L294.7,280.3 L295.6,280.5 L296.5,280.6 L297.3,280.8 L298.2,280.9 L299.1,281.0 L299.9,281.2 L300.8,281.3 L301.7,281.4 L302.5,281.5 L303.4,281.6 L304.3,281.7 L305.2,281.8 L306.0,281.9 L306.9,282.0 L307.8,282.1 L308.6,282.2 L309.5,282.3 L310.4,282.4 L311.2,282.5 L312.1,282.5 L313.0,282.6 L313.9,282.7" stroke="#440077"/>
<path d="M53.8,279.2 L54.7,279.0 L55.5,278.8 L56.4,278.7 L57.3,278.6 L58.1,278.6 L59.0,278.6 L59.9,278.4 L60.8,278.2 L61.6,278.0 L62.5,277.7 L63.4,277.4 L64.2,277.1 L65.1,276.8 L66.0,276.5 L66.8,276.2 L67.7,275.9 L68.6,275.6 L69.5,275.3 L70.3,275.2 L71.2,275.2 L72.1,275.1 L72.9,275.0 L73.8,274.7 L74.7,274.3 L75.5,273.8 L76.4,273.3 L77.3,272.6 L78.2,271.9 L79.0,271.1 L79.9,270.2 L80.8,269.3 L81.6,268.7 L82.5,268.5 L83.4,268.4 L84.2,268.1 L85.1,267.5 L86.0,266.7 L86.8,265.9 L87.7,264.9 L88.6,263.8 L89.5,262.5 L90.3,261.2 L91.2,260.0 L92.1,259.1 L92.9,258.3 L93.8,257.4 L94.7,256.3 L95.5,255.0 L96.4,253.6 L97.3,252.0 L98.2,250.2 L99.0,248.3 L99.9,246.1 L100.8,244.2 L101.6,242.5 L102.5,240.7 L103.4,238.7 L104.2,236.5 L105.1,234.0 L106.0,231.4 L106.9,228.8 L107.7,226.2 L108.6,223.7 L109.5,221.3 L110.3,218.8 L111.2,216.2 L112.1,213.6 L112.9,211.0 L113.8,208.4 L114.7,205.8 L115.6,203.5 L116.4,201.4 L117.3,199.5 L118.2,197.4 L119.0,195.0 L119.9,192.3 L120.8,189.5 L121.6,186.5 L122.5,183.3 L123.4,179.8 L124.2,176.0 L125.1,172.3 L126.0,168.9 L126.9,165.7 L127.7,162.6 L128.6,159.6 L129.5,156.5 L130.3,153.4 L131.2,150.2 L132.1,147.0 L132.9,143.9 L133.8,140.7 L134.7,137.7 L135.6,134.7 L136.4,131.9 L137.3,129.3 L138.2,126.9 L139.0,124.4 L139.9,121.5 L140.8,118.6 L141.6,115.8 L142.5,113.2 L143.4,110.8 L144.3,108.6 L145.1,106.6 L146.0,104.8 L146.9,103.0 L147.7,101.3 L148.6,99.6 L149.5,97.8 L150.3,96.0 L151.2,94.0 L152.1,92.0 L152.9,90.0 L153.8,88.1 L154.7,86.3 L155.6,84.6 L156.4,83.1 L157.3,81.7 L158.2,80.5 L159.0,79.4 L159.9,78.4 L160.8,77.6 L161.6,77.0 L162.5,76.5 L163.4,76.3 L164.3,76.2 L165.1,76.2 L166.0,76.4 L166.9,76.7 L167.7,77.2 L168.6,77.8 L169.5,78.5 L170.3,79.3 L171.2,80.0 L172.1,80.8 L173.0,81.6 L173.8,82.4 L174.7,83.2 L175.6,84.2 L176.4,85.2 L177.3,86.4 L178.2,87.8 L179.0,89.3 L179.9,91.1 L180.8,93.0 L181.7,95.0 L182.5,97.1 L183.4,99.2 L184.3,101.3 L185.1,103.5 L186.0,105.7 L186.9,108.0 L187.7,110.6 L188.6,113.3 L189.5,116.1 L190.3,118.8 L191.2,121.3 L192.1,123.9 L193.0,126.4 L193.8,128.9 L194.7,131.3 L195.6,133.4 L196.4,135.3 L197.3,137.3 L198.2,139.3 L199.0,141.6 L199.9,144.0 L200.8,146.6 L201.7,149.3 L202.5,152.1 L203.4,155.0 L204.3,157.9 L205.1,160.5 L206.0,163.1 L206.9,165.5 L207.7,167.7 L208.6,170.0 L209.5,172.3 L210.4,174.6 L211.2,177.0 L212.1,179.4 L213.0,181.7 L213.8,183.9 L214.7,185.8 L215.6,187.4 L216.4,189.0 L217.3,190.8 L218.2,192.9 L219.0,195.0 L219.9,197.1 L220.8,199.1 L221.7,201.1 L222.5,203.0 L223.4,204.8 L224.3,206.4 L225.1,208.0 L226.0,209.8 L226.9,211.7 L227.7,213.6 L228.6,215.6 L229.5,217.6 L230.4,219.5 L231.2,221.5 L232.1,223.3 L233.0,225.1 L233.8,226.5 L234.7,227.4 L235.6,228.3 L236.4,229.5 L237.3,230.8 L238.2,232.2 L239.1,233.7 L239.9,235.2 L240.8,236.8 L241.7,238.5 L242.5,240.4 L243.4,242.3 L244.3,243.9 L245.1,245.0 L246.0,245.8 L246.9,246.6 L247.8,247.6 L248.6,248.6 L249.5,249.7 L250.4,250.7 L251.2,251.8 L252.1,253.0 L253.0,254.2 L253.8,255.5 L254.7,256.9 L255.6,258.3 L256.4,259.4 L257.3,260.3 L258.2,261.1 L259.1,261.8 L259.9,262.4 L260.8,263.0 L261.7,263.6 L262.5,264.3 L263.4,264.9 L264.3,265.5 L265.1,266.2 L266.0,266.8 L266.9,267.4 L267.8,268.0 L268.6,268.7 L269.5,269.3 L270.4,269.9 L271.2,270.5 L272.1,271.0 L273.0,271.3 L273.8,271.6 L274.7,271.8 L275.6,271.9 L276.5,272.1 L277.3,272.4 L278.2,272.7 L279.1,273.1 L279.9,273.4 L280.8,273.8 L281.7,274.2 L282.5,274.6 L283.4,275.1 L284.3,275.6 L285.1,276.1 L286.0,276.5 L286.9,276.8 L287.8,277.0 L288.6,277.2 L289.5,277.3 L290.4,277.4 L291.2,277.5 L292.1,277.7 L293.0,277.8 L293.8,278.0 L294.7,278.2 L295.6,278.4 L296.5,278.6 L297.3,278.8 L298.2,279.0 L299.1,279.3 L299.9,279.5 L300.8,279.7 L301.7,279.9 L302.5,280.1 L303.4,280.2 L304.3,280.3 L305.2,280.5 L306.0,280.7 L306.9,280.9 L307.8,281.1 L308.6,281.2 L309.5,281.4 L310.4,281.5 L311.2,281.6 L312.1,281.7 L313.0,281.8 L313.9,281.8" stroke="#000000"/>
</g>
<path d="M163.7,75.5 L163.9,87.6 M164.5,98.8 L165.0,111.6 M165.8,122.6 L166.6,135.5 M167.6,146 L169.2,158.7 M170.9,169.1 L172.4,182.1 M174.2,193.1 L176.5,205.5 M179.1,216.5 L181.7,228.6 M184.3,239.4 L188.5,251.5 M192,262.5 L196.3,273.8 M200.7,284 L206.4,295.5" stroke="#000" stroke-width="2.9" fill="none"/>
<path d="M158.9,70.4 L163.6,61.2 L168.3,70.4 Z" fill="#000"/>
<text x="172.9" y="68.0" font-family="Liberation Sans, sans-serif" font-weight="bold" font-size="16.5">50</text><text x="197.1" y="68.0" font-family="Liberation Sans, sans-serif" font-weight="bold" font-size="16.5" style="font-weight:normal">μ</text><text x="206.1" y="68.0" font-family="Liberation Sans, sans-serif" font-weight="bold" font-size="16.5" textLength="39.6" lengthAdjust="spacingAndGlyphs">J/cm</text><text x="246.75" y="59.9" font-family="Liberation Sans, sans-serif" font-weight="bold" font-size="10">2</text>
<text x="221.85" y="308.7" font-family="Liberation Sans, sans-serif" font-weight="bold" font-size="16.5">0.2</text><text x="251.4" y="308.7" font-family="Liberation Sans, sans-serif" font-weight="bold" font-size="16.5" style="font-weight:normal">μ</text><text x="261.05" y="308.7" font-family="Liberation Sans, sans-serif" font-weight="bold" font-size="16.5" textLength="38.85" lengthAdjust="spacingAndGlyphs">J/cm</text><text x="300.95" y="300.6" font-family="Liberation Sans, sans-serif" font-weight="bold" font-size="10">2</text>
<rect x="53.8" y="38.05" width="260.05" height="284.65" fill="none" stroke="#000" stroke-width="2.2"/>
<path d="M53.8,322.7 v-6 M53.8,38.05 v6 M86.3,322.7 v-3.5 M86.3,38.05 v3.5 M118.8,322.7 v-6 M118.8,38.05 v6 M151.3,322.7 v-3.5 M151.3,38.05 v3.5 M183.8,322.7 v-6 M183.8,38.05 v6 M216.3,322.7 v-3.5 M216.3,38.05 v3.5 M248.8,322.7 v-6 M248.8,38.05 v6 M281.3,322.7 v-3.5 M281.3,38.05 v3.5 M313.9,322.7 v-6 M313.9,38.05 v6 M53.8,322.7 h6 M313.85,322.7 h-6 M53.8,304.9 h3.5 M313.85,304.9 h-3.5 M53.8,287.1 h6 M313.85,287.1 h-6 M53.8,269.3 h3.5 M313.85,269.3 h-3.5 M53.8,251.5 h6 M313.85,251.5 h-6 M53.8,233.7 h3.5 M313.85,233.7 h-3.5 M53.8,216.0 h6 M313.85,216.0 h-6 M53.8,198.2 h3.5 M313.85,198.2 h-3.5 M53.8,180.4 h6 M313.85,180.4 h-6 M53.8,162.6 h3.5 M313.85,162.6 h-3.5 M53.8,144.8 h6 M313.85,144.8 h-6 M53.8,127.0 h3.5 M313.85,127.0 h-3.5 M53.8,109.2 h6 M313.85,109.2 h-6 M53.8,91.4 h3.5 M313.85,91.4 h-3.5 M53.8,73.6 h6 M313.85,73.6 h-6 M53.8,55.8 h3.5 M313.85,55.8 h-3.5 M53.8,38.1 h6 M313.85,38.1 h-6" stroke="#000" stroke-width="2" fill="none"/>
<text x="47.5" y="327.1" font-family="Liberation Sans, sans-serif" font-weight="bold" font-size="16" text-anchor="end">-1</text>
<text x="47.5" y="291.5" font-family="Liberation Sans, sans-serif" font-weight="bold" font-size="16" text-anchor="end">0</text>
<text x="47.5" y="255.9" font-family="Liberation Sans, sans-serif" font-weight="bold" font-size="16" text-anchor="end">1</text>
<text x="47.5" y="220.4" font-family="Liberation Sans, sans-serif" font-weight="bold" font-size="16" text-anchor="end">2</text>
<text x="47.5" y="184.8" font-family="Liberation Sans, sans-serif" font-weight="bold" font-size="16" text-anchor="end">3</text>
<text x="47.5" y="149.2" font-family="Liberation Sans, sans-serif" font-weight="bold" font-size="16" text-anchor="end">4</text>
<text x="47.5" y="113.6" font-family="Liberation Sans, sans-serif" font-weight="bold" font-size="16" text-anchor="end">5</text>
<text x="47.5" y="78.0" font-family="Liberation Sans, sans-serif" font-weight="bold" font-size="16" text-anchor="end">6</text>
<text x="47.5" y="42.5" font-family="Liberation Sans, sans-serif" font-weight="bold" font-size="16" text-anchor="end">7</text>
<text x="53.8" y="341.3" font-family="Liberation Sans, sans-serif" font-weight="bold" font-size="16" text-anchor="middle">550</text>
<text x="118.8" y="341.3" font-family="Liberation Sans, sans-serif" font-weight="bold" font-size="16" text-anchor="middle">600</text>
<text x="183.8" y="341.3" font-family="Liberation Sans, sans-serif" font-weight="bold" font-size="16" text-anchor="middle">650</text>
<text x="248.8" y="341.3" font-family="Liberation Sans, sans-serif" font-weight="bold" font-size="16" text-anchor="middle">700</text>
<text x="313.9" y="341.3" font-family="Liberation Sans, sans-serif" font-weight="bold" font-size="16" text-anchor="middle">750</text>
<text x="107.6" y="358.8" font-family="Liberation Sans, sans-serif" font-weight="bold" font-size="18.5" textLength="104.6" lengthAdjust="spacingAndGlyphs">Wavelength</text><text x="218.3" y="358.8" font-family="Liberation Sans, sans-serif" font-weight="bold" font-size="18.5">(nm</text><text x="253.9" y="358.8" font-family="Liberation Sans, sans-serif" font-weight="bold" font-size="18.5">)</text>
<text transform="translate(22.6,290.8) rotate(-90)" font-family="Liberation Sans, sans-serif" font-weight="bold" font-size="18.5" textLength="247.6" lengthAdjust="spacing">PL Intensity (counts×10000)</text>
<path d="M381.9,322.7 H735.55" stroke="#000" stroke-width="2.1" fill="none"/>
<path d="M381.7,322.7 v-3.5 M381.7,38.1 v3.5 M411.2,322.7 v-6 M411.2,38.1 v6 M440.7,322.7 v-3.5 M440.7,38.1 v3.5 M470.2,322.7 v-6 M470.2,38.1 v6 M499.8,322.7 v-3.5 M499.8,38.1 v3.5 M529.3,322.7 v-6 M529.3,38.1 v6 M558.8,322.7 v-3.5 M558.8,38.1 v3.5 M588.3,322.7 v-6 M588.3,38.1 v6 M617.8,322.7 v-3.5 M617.8,38.1 v3.5 M647.4,322.7 v-6 M647.4,38.1 v6 M676.9,322.7 v-3.5 M676.9,38.1 v3.5 M706.4,322.7 v-6 M706.4,38.1 v6 M735.9,322.7 v-3.5 M735.9,38.1 v3.5" stroke="#000" stroke-width="2" fill="none"/>
<path d="M381.9,38.1 V323.75" stroke="#ff0000" stroke-width="2.1" fill="none"/>
<path d="M381.9,322.7 h6 M381.9,306.9 h3.5 M381.9,291.1 h6 M381.9,275.3 h3.5 M381.9,259.5 h6 M381.9,243.6 h3.5 M381.9,227.8 h6 M381.9,212.0 h3.5 M381.9,196.2 h6 M381.9,180.4 h3.5 M381.9,164.6 h6 M381.9,148.8 h3.5 M381.9,133.0 h6 M381.9,117.2 h3.5 M381.9,101.3 h6 M381.9,85.5 h3.5 M381.9,69.7 h6 M381.9,53.9 h3.5 M381.9,38.1 h6" stroke="#ff0000" stroke-width="2" fill="none"/>
<path d="M380.84999999999997,38.1 H735.55" stroke="#000" stroke-width="2.1" fill="none"/><rect x="380.84999999999997" y="38.1" width="2.1" height="3.5" fill="#000"/>
<path d="M735.55,37.050000000000004 V323.75" stroke="#0000ff" stroke-width="2.1" fill="none"/>
<path d="M735.55,322.7 h-6 M735.55,306.9 h-3.5 M735.55,291.1 h-6 M735.55,275.3 h-3.5 M735.55,259.5 h-6 M735.55,243.6 h-3.5 M735.55,227.8 h-6 M735.55,212.0 h-3.5 M735.55,196.2 h-6 M735.55,180.4 h-3.5 M735.55,164.6 h-6 M735.55,148.8 h-3.5 M735.55,133.0 h-6 M735.55,117.2 h-3.5 M735.55,101.3 h-6 M735.55,85.5 h-3.5 M735.55,69.7 h-6 M735.55,53.9 h-3.5 M735.55,38.1 h-6" stroke="#0000ff" stroke-width="2" fill="none"/>
<text x="375.8" y="327.1" font-family="Liberation Sans, sans-serif" font-weight="bold" font-size="16" text-anchor="end" fill="#ff0000">630</text>
<text x="375.8" y="295.5" font-family="Liberation Sans, sans-serif" font-weight="bold" font-size="16" text-anchor="end" fill="#ff0000">635</text>
<text x="375.8" y="263.9" font-family="Liberation Sans, sans-serif" font-weight="bold" font-size="16" text-anchor="end" fill="#ff0000">640</text>
<text x="375.8" y="232.2" font-family="Liberation Sans, sans-serif" font-weight="bold" font-size="16" text-anchor="end" fill="#ff0000">645</text>
<text x="375.8" y="200.6" font-family="Liberation Sans, sans-serif" font-weight="bold" font-size="16" text-anchor="end" fill="#ff0000">650</text>
<text x="375.8" y="169.0" font-family="Liberation Sans, sans-serif" font-weight="bold" font-size="16" text-anchor="end" fill="#ff0000">655</text>
<text x="375.8" y="137.4" font-family="Liberation Sans, sans-serif" font-weight="bold" font-size="16" text-anchor="end" fill="#ff0000">660</text>
<text x="375.8" y="105.7" font-family="Liberation Sans, sans-serif" font-weight="bold" font-size="16" text-anchor="end" fill="#ff0000">665</text>
<text x="375.8" y="74.1" font-family="Liberation Sans, sans-serif" font-weight="bold" font-size="16" text-anchor="end" fill="#ff0000">670</text>
<text x="375.8" y="42.5" font-family="Liberation Sans, sans-serif" font-weight="bold" font-size="16" text-anchor="end" fill="#ff0000">675</text>
<text x="742" y="327.1" font-family="Liberation Sans, sans-serif" font-weight="bold" font-size="16" fill="#0000ff">66</text>
<text x="742" y="295.5" font-family="Liberation Sans, sans-serif" font-weight="bold" font-size="16" fill="#0000ff">68</text>
<text x="742" y="263.9" font-family="Liberation Sans, sans-serif" font-weight="bold" font-size="16" fill="#0000ff">70</text>
<text x="742" y="232.2" font-family="Liberation Sans, sans-serif" font-weight="bold" font-size="16" fill="#0000ff">72</text>
<text x="742" y="200.6" font-family="Liberation Sans, sans-serif" font-weight="bold" font-size="16" fill="#0000ff">74</text>
<text x="742" y="169.0" font-family="Liberation Sans, sans-serif" font-weight="bold" font-size="16" fill="#0000ff">76</text>
<text x="742" y="137.4" font-family="Liberation Sans, sans-serif" font-weight="bold" font-size="16" fill="#0000ff">78</text>
<text x="742" y="105.7" font-family="Liberation Sans, sans-serif" font-weight="bold" font-size="16" fill="#0000ff">80</text>
<text x="742" y="74.1" font-family="Liberation Sans, sans-serif" font-weight="bold" font-size="16" fill="#0000ff">82</text>
<text x="742" y="42.5" font-family="Liberation Sans, sans-serif" font-weight="bold" font-size="16" fill="#0000ff">84</text>
<text x="411.2" y="341.3" font-family="Liberation Sans, sans-serif" font-weight="bold" font-size="16" text-anchor="middle">0</text>
<text x="470.2" y="341.3" font-family="Liberation Sans, sans-serif" font-weight="bold" font-size="16" text-anchor="middle">10</text>
<text x="529.3" y="341.3" font-family="Liberation Sans, sans-serif" font-weight="bold" font-size="16" text-anchor="middle">20</text>
<text x="588.3" y="341.3" font-family="Liberation Sans, sans-serif" font-weight="bold" font-size="16" text-anchor="middle">30</text>
<text x="647.4" y="341.3" font-family="Liberation Sans, sans-serif" font-weight="bold" font-size="16" text-anchor="middle">40</text>
<text x="706.4" y="341.3" font-family="Liberation Sans, sans-serif" font-weight="bold" font-size="16" text-anchor="middle">50</text>
<text x="437" y="357.5" font-family="Liberation Sans, sans-serif" font-weight="bold" font-size="18.3" textLength="89" lengthAdjust="spacingAndGlyphs">Excitation</text><text x="531.5" y="357.5" font-family="Liberation Sans, sans-serif" font-weight="bold" font-size="18.3" textLength="70.6" lengthAdjust="spacingAndGlyphs">Fluence</text><text x="608" y="357.5" font-family="Liberation Sans, sans-serif" font-weight="bold" font-size="18.3">(</text><text x="614.8" y="357.5" font-family="Liberation Sans, sans-serif" font-weight="bold" font-size="18.3" style="font-weight:normal">μ</text><text x="624.6" y="357.5" font-family="Liberation Sans, sans-serif" font-weight="bold" font-size="18.3" textLength="43.6" lengthAdjust="spacingAndGlyphs">J/cm</text><text x="667.6" y="348.3" font-family="Liberation Sans, sans-serif" font-weight="bold" font-size="11">2</text><text x="674.8" y="357.5" font-family="Liberation Sans, sans-serif" font-weight="bold" font-size="18.3">)</text>
<text transform="translate(342.6,263.8) rotate(-90)" font-family="Liberation Sans, sans-serif" font-weight="bold" font-size="18.5" fill="#ff0000" textLength="169.4" lengthAdjust="spacing">Peak Position (nm)</text>
<text transform="translate(778.8,226) rotate(-90)" font-family="Liberation Sans, sans-serif" font-weight="bold" font-size="18.5" fill="#0000ff" textLength="106.5" lengthAdjust="spacing">FWHM (nm)</text>
<path d="M396,185 H475.4" stroke="#ff0000" stroke-width="3"/><path d="M387.9,185 L397,180.6 L397,189.5 Z" fill="#ff0000"/>
<path d="M414.72,62.42 L420.53,78.38 M425.15,91.43 L432.15,111.67 M438.21,124.62 L442.39,131.68 M535.35,211.01 L551.75,219.69 M564.69,225.97 L580.91,233.13 M593.92,238.34 L610.18,244.16 M623.24,248.47 L639.66,253.43 M652.74,257.42 L668.86,262.38 M681.93,266.68 L698.07,272.32" stroke="#ff0000" stroke-width="2" fill="none"/>
<rect x="406.90" y="50.60" width="10.9" height="10.6" fill="#ff0000"/>
<rect x="417.45" y="79.60" width="10.9" height="10.6" fill="#ff0000"/>
<rect x="428.95" y="112.90" width="10.9" height="10.6" fill="#ff0000"/>
<rect x="440.75" y="132.80" width="10.9" height="10.6" fill="#ff0000"/>
<rect x="452.95" y="144.20" width="10.9" height="10.6" fill="#ff0000"/>
<rect x="464.45" y="156.30" width="10.9" height="10.6" fill="#ff0000"/>
<rect x="476.25" y="167.90" width="10.9" height="10.6" fill="#ff0000"/>
<rect x="488.05" y="179.00" width="10.9" height="10.6" fill="#ff0000"/>
<rect x="499.75" y="184.90" width="10.9" height="10.6" fill="#ff0000"/>
<rect x="511.75" y="192.90" width="10.9" height="10.6" fill="#ff0000"/>
<rect x="523.45" y="202.30" width="10.9" height="10.6" fill="#ff0000"/>
<rect x="552.75" y="217.80" width="10.9" height="10.6" fill="#ff0000"/>
<rect x="581.95" y="230.70" width="10.9" height="10.6" fill="#ff0000"/>
<rect x="611.25" y="241.20" width="10.9" height="10.6" fill="#ff0000"/>
<rect x="640.75" y="250.10" width="10.9" height="10.6" fill="#ff0000"/>
<rect x="669.95" y="259.10" width="10.9" height="10.6" fill="#ff0000"/>
<rect x="699.15" y="269.30" width="10.9" height="10.6" fill="#ff0000"/>
<path d="M412.79,69.10 L422.46,214.60 M424.78,227.75 L432.72,255.35 M535.19,289.71 L551.61,287.99 M564.77,285.88 L580.83,282.42 M593.95,279.19 L610.15,274.71 M623.23,270.71 L639.67,265.19 M652.75,261.09 L668.85,256.41 M681.91,251.87 L698.09,245.33" stroke="#0000ff" stroke-width="2" fill="none"/>
<rect x="406.90" y="57.20" width="10.9" height="10.6" fill="#0000ff"/>
<rect x="417.45" y="215.90" width="10.9" height="10.6" fill="#0000ff"/>
<rect x="429.15" y="256.60" width="10.9" height="10.6" fill="#0000ff"/>
<rect x="440.85" y="267.60" width="10.9" height="10.6" fill="#0000ff"/>
<rect x="452.85" y="270.40" width="10.9" height="10.6" fill="#0000ff"/>
<rect x="464.45" y="276.20" width="10.9" height="10.6" fill="#0000ff"/>
<rect x="476.35" y="283.40" width="10.9" height="10.6" fill="#0000ff"/>
<rect x="487.75" y="283.10" width="10.9" height="10.6" fill="#0000ff"/>
<rect x="499.65" y="285.70" width="10.9" height="10.6" fill="#0000ff"/>
<rect x="511.55" y="284.70" width="10.9" height="10.6" fill="#0000ff"/>
<rect x="523.15" y="285.10" width="10.9" height="10.6" fill="#0000ff"/>
<rect x="552.75" y="282.00" width="10.9" height="10.6" fill="#0000ff"/>
<rect x="581.95" y="275.70" width="10.9" height="10.6" fill="#0000ff"/>
<rect x="611.25" y="267.60" width="10.9" height="10.6" fill="#0000ff"/>
<rect x="640.75" y="257.70" width="10.9" height="10.6" fill="#0000ff"/>
<rect x="669.95" y="249.20" width="10.9" height="10.6" fill="#0000ff"/>
<rect x="699.15" y="237.40" width="10.9" height="10.6" fill="#0000ff"/>
<path d="M572.8,293.1 H712" stroke="#0000ff" stroke-width="3"/><path d="M720,293.1 L710.5,288.2 L710.5,298 Z" fill="#0000ff"/>
<path d="M555.8,70.8 H568.6 M582.3,70.8 H594.8" stroke="#ff0000" stroke-width="1.9"/><rect x="569.8" y="65.8" width="11.2" height="10.2" fill="#ff0000"/>
<path d="M555.8,91.7 H568.6 M582.3,91.7 H594.8" stroke="#0000ff" stroke-width="1.9"/><rect x="569.8" y="86.4" width="11.2" height="10.2" fill="#0000ff"/>
<text x="598" y="76" font-family="Liberation Sans, sans-serif" font-weight="bold" font-size="16" textLength="110.6" lengthAdjust="spacingAndGlyphs">Peak Position</text>
<text x="598.2" y="96.6" font-family="Liberation Sans, sans-serif" font-weight="bold" font-size="16" textLength="52.4" lengthAdjust="spacingAndGlyphs">FWHM</text>
</svg>
</body></html>
